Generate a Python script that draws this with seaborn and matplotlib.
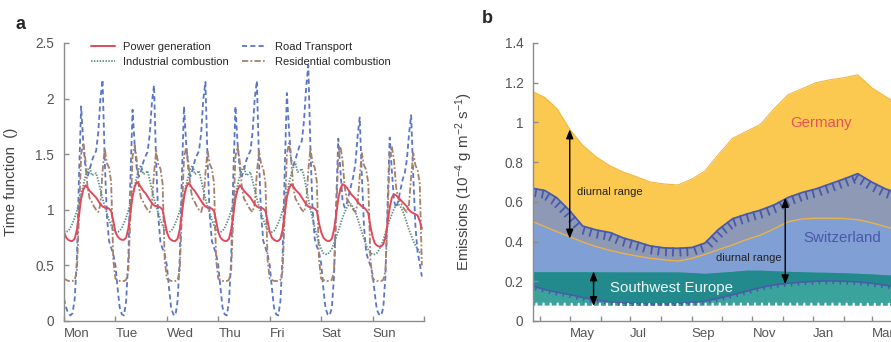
import numpy as np
import pandas as pd
import seaborn as sns
import matplotlib.pyplot as plt
import matplotlib.patheffects as pe

# Panel a: hourly time functions, Mon 00h ... Sun 23h (one row per day)
power_generation = [
    0.80, 0.75, 0.73, 0.72, 0.72, 0.74, 0.82, 0.95, 1.10, 1.18, 1.22, 1.20, 1.17, 1.15, 1.13, 1.11, 1.08, 1.05, 1.03, 1.02, 1.02, 1.01, 0.99, 0.90,
    0.80, 0.76, 0.74, 0.73, 0.73, 0.75, 0.83, 0.97, 1.12, 1.21, 1.25, 1.23, 1.20, 1.17, 1.15, 1.12, 1.09, 1.06, 1.04, 1.03, 1.03, 1.02, 1.00, 0.90,
    0.80, 0.75, 0.73, 0.72, 0.72, 0.74, 0.82, 0.96, 1.11, 1.20, 1.24, 1.22, 1.19, 1.17, 1.14, 1.11, 1.08, 1.05, 1.03, 1.02, 1.02, 1.01, 0.99, 0.90,
    0.80, 0.75, 0.73, 0.72, 0.72, 0.74, 0.82, 0.95, 1.10, 1.18, 1.22, 1.20, 1.17, 1.15, 1.13, 1.11, 1.08, 1.05, 1.03, 1.02, 1.02, 1.01, 0.99, 0.90,
    0.80, 0.75, 0.73, 0.72, 0.72, 0.74, 0.82, 0.96, 1.11, 1.19, 1.23, 1.21, 1.18, 1.16, 1.14, 1.11, 1.08, 1.05, 1.03, 1.02, 1.02, 1.01, 0.99, 0.88,
    0.80, 0.75, 0.73, 0.72, 0.72, 0.74, 0.82, 0.95, 1.10, 1.19, 1.23, 1.22, 1.20, 1.17, 1.14, 1.12, 1.10, 1.07, 1.05, 1.03, 1.02, 1.00, 0.97, 0.85,
    0.76, 0.70, 0.68, 0.67, 0.67, 0.69, 0.75, 0.88, 1.02, 1.11, 1.14, 1.13, 1.11, 1.09, 1.07, 1.05, 1.03, 1.00, 0.98, 0.97, 0.96, 0.95, 0.90, 0.83,
]
industrial_combustion = [
    0.81, 0.80, 0.81, 0.84, 0.88, 0.93, 0.99, 1.06, 1.14, 1.22, 1.30, 1.36, 1.38, 1.31, 1.32, 1.33, 1.26, 1.18, 1.10, 1.03, 0.97, 0.91, 0.86, 0.82,
    0.80, 0.80, 0.81, 0.84, 0.88, 0.93, 0.99, 1.06, 1.14, 1.22, 1.30, 1.37, 1.40, 1.32, 1.33, 1.35, 1.27, 1.18, 1.10, 1.03, 0.97, 0.91, 0.86, 0.82,
    0.80, 0.80, 0.81, 0.84, 0.88, 0.93, 0.99, 1.06, 1.14, 1.22, 1.30, 1.37, 1.40, 1.32, 1.33, 1.35, 1.27, 1.18, 1.10, 1.03, 0.97, 0.91, 0.86, 0.82,
    0.80, 0.80, 0.81, 0.84, 0.88, 0.93, 0.99, 1.06, 1.14, 1.22, 1.30, 1.36, 1.39, 1.31, 1.32, 1.34, 1.26, 1.18, 1.10, 1.03, 0.97, 0.91, 0.86, 0.82,
    0.80, 0.80, 0.81, 0.84, 0.88, 0.93, 0.99, 1.06, 1.15, 1.24, 1.32, 1.38, 1.42, 1.34, 1.35, 1.37, 1.30, 1.20, 1.10, 1.00, 0.92, 0.84, 0.77, 0.70,
    0.65, 0.61, 0.60, 0.60, 0.62, 0.65, 0.70, 0.75, 0.81, 0.87, 0.93, 0.98, 1.02, 1.05, 1.05, 1.02, 0.98, 0.92, 0.86, 0.80, 0.74, 0.68, 0.64, 0.61,
    0.60, 0.60, 0.61, 0.64, 0.68, 0.73, 0.79, 0.85, 0.91, 0.96, 1.01, 1.04, 1.05, 1.03, 0.99, 0.94, 0.88, 0.82, 0.77, 0.72, 0.68, 0.65, 0.62, 0.60,
]
road_transport = [
    0.20, 0.12, 0.07, 0.05, 0.07, 0.20, 0.55, 1.30, 1.93, 1.60, 1.38, 1.30, 1.36, 1.44, 1.49, 1.53, 1.70, 2.00, 2.17, 1.45, 0.95, 0.72, 0.66, 0.60,
    0.50, 0.30, 0.12, 0.06, 0.05, 0.18, 0.55, 1.28, 1.90, 1.58, 1.36, 1.30, 1.35, 1.43, 1.48, 1.52, 1.68, 1.96, 2.12, 1.42, 0.94, 0.71, 0.65, 0.60,
    0.50, 0.30, 0.12, 0.06, 0.05, 0.18, 0.55, 1.30, 1.93, 1.60, 1.37, 1.30, 1.36, 1.44, 1.49, 1.53, 1.69, 1.99, 2.15, 1.44, 0.95, 0.72, 0.66, 0.60,
    0.50, 0.30, 0.12, 0.06, 0.05, 0.18, 0.55, 1.30, 1.93, 1.60, 1.37, 1.30, 1.36, 1.44, 1.49, 1.53, 1.70, 2.00, 2.16, 1.44, 0.95, 0.72, 0.66, 0.60,
    0.50, 0.30, 0.12, 0.06, 0.05, 0.18, 0.58, 1.35, 2.05, 1.72, 1.45, 1.40, 1.45, 1.52, 1.58, 1.62, 1.80, 2.10, 2.30, 1.55, 1.00, 0.74, 0.67, 0.62,
    0.52, 0.30, 0.12, 0.06, 0.05, 0.12, 0.40, 1.05, 1.64, 1.35, 1.08, 1.02, 1.06, 1.14, 1.22, 1.30, 1.42, 1.66, 1.83, 1.30, 0.85, 0.62, 0.55, 0.50,
    0.42, 0.25, 0.10, 0.06, 0.05, 0.12, 0.40, 1.05, 1.65, 1.35, 1.08, 1.02, 1.08, 1.18, 1.27, 1.33, 1.45, 1.68, 1.85, 1.30, 0.85, 0.62, 0.52, 0.40,
]
residential_combustion = [
    0.38, 0.37, 0.36, 0.36, 0.36, 0.37, 0.45, 0.95, 1.50, 1.60, 1.45, 1.20, 1.10, 1.07, 1.03, 1.00, 0.98, 1.05, 1.35, 1.55, 1.42, 1.38, 1.25, 0.55,
    0.38, 0.37, 0.36, 0.36, 0.36, 0.37, 0.45, 0.95, 1.48, 1.58, 1.44, 1.20, 1.10, 1.07, 1.03, 1.00, 0.98, 1.05, 1.33, 1.53, 1.41, 1.37, 1.24, 0.55,
    0.38, 0.37, 0.36, 0.36, 0.36, 0.37, 0.45, 0.95, 1.47, 1.56, 1.43, 1.20, 1.10, 1.07, 1.03, 1.00, 0.98, 1.05, 1.33, 1.53, 1.41, 1.37, 1.24, 0.55,
    0.38, 0.37, 0.36, 0.36, 0.36, 0.37, 0.45, 0.95, 1.48, 1.57, 1.44, 1.20, 1.10, 1.07, 1.03, 1.00, 0.98, 1.05, 1.33, 1.53, 1.41, 1.37, 1.24, 0.55,
    0.38, 0.37, 0.36, 0.36, 0.36, 0.37, 0.45, 0.95, 1.50, 1.60, 1.45, 1.20, 1.10, 1.07, 1.03, 1.00, 0.98, 1.05, 1.35, 1.55, 1.42, 1.38, 1.25, 0.55,
    0.38, 0.37, 0.36, 0.36, 0.36, 0.37, 0.45, 0.95, 1.48, 1.57, 1.44, 1.20, 1.10, 1.07, 1.03, 1.00, 0.98, 1.05, 1.30, 1.51, 1.40, 1.36, 1.24, 0.55,
    0.38, 0.37, 0.36, 0.36, 0.36, 0.37, 0.45, 0.95, 1.48, 1.57, 1.44, 1.20, 1.10, 1.07, 1.03, 1.00, 0.98, 1.05, 1.30, 1.51, 1.40, 1.36, 1.24, 0.50,
]
day_labels = ["Mon", "Tue", "Wed", "Thu", "Fri", "Sat", "Sun", ""]

# Panel b: daily max/min emissions through the year (days from 1 April)
days = [-7, 5, 17, 30, 43, 57, 71, 84, 98, 111, 125, 139, 153, 166,
        180, 194, 208, 222, 236, 250, 264, 278, 292, 306, 320, 334, 348, 362]
germany_max = [1.155, 1.125, 1.07, 0.965, 0.885, 0.825, 0.78, 0.75, 0.725, 0.70, 0.69, 0.685, 0.715, 0.755,
               0.84, 0.92, 0.955, 0.99, 1.07, 1.14, 1.17, 1.20, 1.215, 1.225, 1.24, 1.175, 1.13, 1.09]
germany_min = [0.50, 0.475, 0.45, 0.424, 0.398, 0.374, 0.355, 0.34, 0.327, 0.316, 0.308, 0.302, 0.315, 0.335,
               0.36, 0.383, 0.41, 0.432, 0.465, 0.50, 0.514, 0.518, 0.518, 0.516, 0.51, 0.495, 0.475, 0.455]
swiss_max = [0.668, 0.657, 0.62, 0.555, 0.478, 0.458, 0.445, 0.418, 0.398, 0.378, 0.368, 0.366, 0.37, 0.392,
             0.462, 0.515, 0.538, 0.558, 0.585, 0.622, 0.647, 0.665, 0.69, 0.715, 0.742, 0.70, 0.665, 0.64]
swiss_min = [0.175, 0.158, 0.145, 0.133, 0.118, 0.105, 0.097, 0.091, 0.088, 0.086, 0.086, 0.088, 0.094, 0.10,
             0.115, 0.132, 0.15, 0.168, 0.182, 0.19, 0.196, 0.20, 0.202, 0.20, 0.197, 0.19, 0.18, 0.172]
sw_europe_max = [0.248, 0.248, 0.248, 0.248, 0.248, 0.248, 0.247, 0.247, 0.247, 0.247, 0.247, 0.247, 0.244, 0.24,
                 0.245, 0.25, 0.256, 0.256, 0.253, 0.25, 0.248, 0.246, 0.245, 0.243, 0.24, 0.237, 0.233, 0.23]
sw_europe_min = [0.072, 0.072, 0.072, 0.071, 0.071, 0.071, 0.071, 0.070, 0.070, 0.070, 0.070, 0.070, 0.071, 0.071,
                 0.072, 0.072, 0.072, 0.072, 0.072, 0.072, 0.072, 0.072, 0.072, 0.072, 0.071, 0.071, 0.071, 0.071]
month_starts = [0, 30, 61, 91, 122, 153, 183, 214, 245, 275, 306, 334]
month_labels = ["", "May", "", "Jul", "", "Sep", "", "Nov", "", "Jan", "", "Mar"]

sns.set_theme(style="ticks")
plt.rcParams["font.family"] = ["Liberation Sans", "DejaVu Sans"]
plt.rcParams["mathtext.default"] = "regular"

grey = "#8c8c8c"
txt = "#555555"

fig = plt.figure(figsize=(8.91, 3.42), dpi=100)
axA = fig.add_axes([64 / 891, 21 / 342, 360 / 891, 278 / 342])
axB = fig.add_axes([533 / 891, 21 / 342, 369.4 / 891, 278 / 342])

# ---- panel a
hours = np.arange(len(power_generation))
sns.lineplot(x=hours, y=road_transport, ax=axA, color="#5b76c9", lw=1.3,
             linestyle=(0, (2.8, 1.8)), label="Road Transport")
sns.lineplot(x=hours, y=residential_combustion, ax=axA, color="#a5806a", lw=1.3,
             linestyle=(0, (3.5, 1.2, 1, 1.2)), label="Residential combustion")
sns.lineplot(x=hours, y=industrial_combustion, ax=axA, color="#5e9183", lw=1.3,
             linestyle=(0, (0.8, 0.8)), label="Industrial combustion")
sns.lineplot(x=hours, y=power_generation, ax=axA, color="#e04a5c", lw=1.4,
             label="Power generation")
lines = axA.get_lines()
axA.legend(handles=[lines[3], lines[2], lines[0], lines[1]], ncol=2, frameon=False,
           fontsize=8, loc="upper left", bbox_to_anchor=(0.075, 1.003), borderaxespad=0,
           borderpad=0, handlelength=2.2, handletextpad=0.7, columnspacing=1.2, labelspacing=0.4)

axA.set_xlim(0, 168)
axA.set_ylim(0, 2.5)
axA.set_xticks(np.arange(0, 169, 24))
axA.set_xticklabels(day_labels, ha="left")
axA.set_yticks([0, 0.5, 1, 1.5, 2, 2.5])
axA.set_yticklabels(["0", "0.5", "1", "1.5", "2", "2.5"])
axA.set_xlabel("")
axA.set_ylabel("Time function  ()", fontsize=10.8, color="#444444")
axA.yaxis.set_label_coords(-0.128, 0.5)

# ---- panel b
yellow, grey_blue, light_blue = "#fbc94f", "#8e99b6", "#809fd4"
teal_light, teal_dark, dark_blue = "#3aa39c", "#22898c", "#4a5aab"
axB.fill_between(days, germany_min, germany_max, color=yellow, lw=0)
axB.fill_between(days, swiss_min, swiss_max, color=light_blue, lw=0)
axB.fill_between(days, germany_min, swiss_max, color=grey_blue, lw=0)
axB.fill_between(days, sw_europe_min, sw_europe_max, color=teal_light, lw=0)
axB.fill_between(days, swiss_min, sw_europe_max, color=teal_dark, lw=0)

sns.lineplot(x=days, y=germany_max, ax=axB, color="#f2b640", lw=0.8)
sns.lineplot(x=days, y=germany_min, ax=axB, color="#e9b24a", lw=1.0)
sns.lineplot(x=days, y=swiss_max, ax=axB, color=dark_blue, lw=1.3,
             path_effects=[pe.withTickedStroke(spacing=5.0, angle=-90, length=1.1)])
sns.lineplot(x=days, y=swiss_min, ax=axB, color=dark_blue, lw=1.1,
             path_effects=[pe.withTickedStroke(spacing=5.0, angle=-90, length=0.4)])
sns.lineplot(x=days, y=sw_europe_min, ax=axB, color="white", lw=1.6,
             path_effects=[pe.withTickedStroke(spacing=5.0, angle=90, length=0.45)])

arrow = dict(arrowstyle="<|-|>,head_length=0.45,head_width=0.18", color="black", lw=1.0,
             shrinkA=0, shrinkB=0)
axB.annotate("", xy=(30, 0.415), xytext=(30, 0.965), arrowprops=arrow)
axB.annotate("", xy=(247, 0.185), xytext=(247, 0.62), arrowprops=arrow)
axB.annotate("", xy=(54, 0.075), xytext=(54, 0.25), arrowprops=arrow)
axB.text(37, 0.65, "diurnal range", fontsize=8, color="#222222", va="center")
axB.text(210, 0.317, "diurnal range", fontsize=8, color="#222222", va="center", ha="center")
axB.text(283, 0.995, "Germany", fontsize=10.8, color="#e8505b", ha="center", va="center")
axB.text(304, 0.42, "Switzerland", fontsize=10.8, color="#4a58a8", ha="center", va="center")
axB.text(132, 0.165, "Southwest Europe", fontsize=10.8, color="#eef7f4", ha="center", va="center")

axB.set_xlim(-7, 365)
axB.set_ylim(0, 1.4)
axB.set_xticks(month_starts)
axB.set_xticklabels(month_labels, ha="left")
axB.set_yticks([0, 0.2, 0.4, 0.6, 0.8, 1.0, 1.2, 1.4])
axB.set_yticklabels(["0", "0.2", "0.4", "0.6", "0.8", "1", "1.2", "1.4"])
axB.set_xlabel("")
axB.set_ylabel("Emissions (10$^{-4}$ g m$^{-2}$ s$^{-1}$)", fontsize=10.8, color="#444444")
axB.yaxis.set_label_coords(-0.157, 0.5)

for ax in (axA, axB):
    sns.despine(ax=ax)
    for side in ("left", "bottom"):
        ax.spines[side].set_color(grey)
        ax.spines[side].set_linewidth(1.0)
    ax.tick_params(direction="in", length=3.5, width=1.0, color=grey,
                   labelsize=9.8, labelcolor=txt, pad=7)
    ax.tick_params(axis="x", labelsize=9.5, pad=5)
    ax.set_axisbelow(False)

fig.text(16 / 891, 1 - 29 / 342, "a", fontsize=13, fontweight="bold", va="baseline")
fig.text(482 / 891, 1 - 23 / 342, "b", fontsize=13, fontweight="bold", va="baseline")

fig.savefig("out.png", dpi=100)
